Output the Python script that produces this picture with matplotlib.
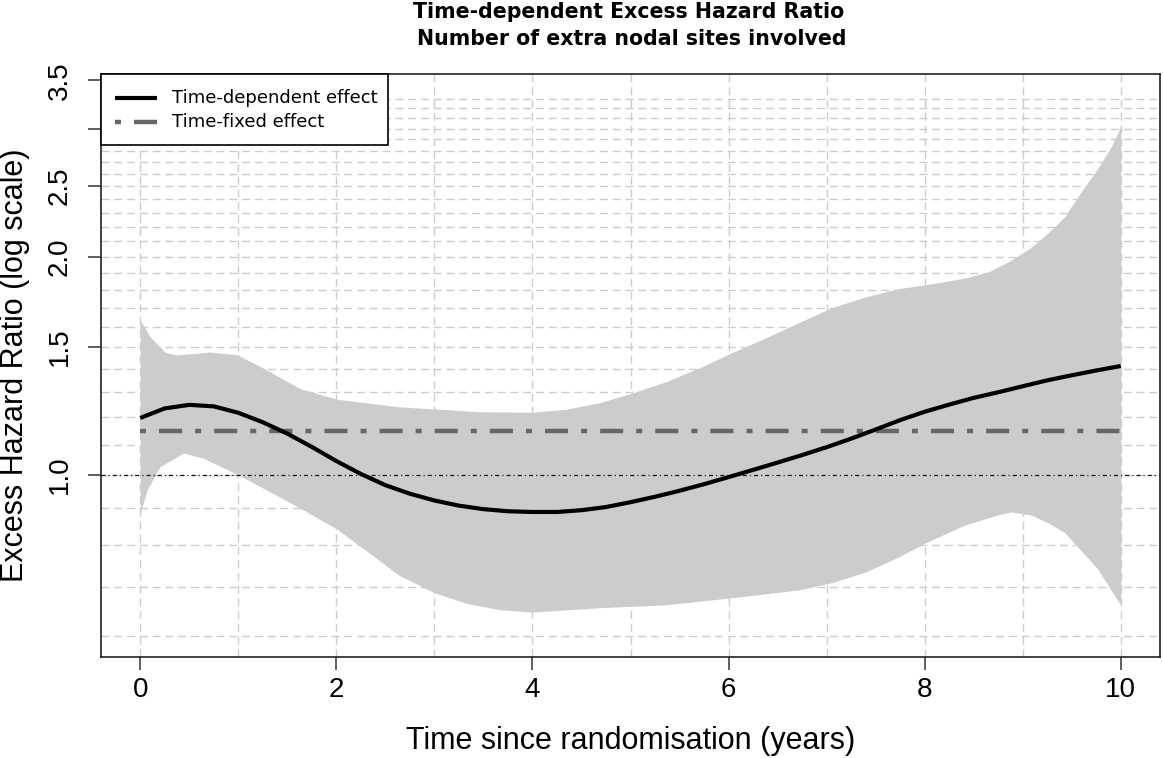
import matplotlib
matplotlib.use("Agg")
import matplotlib.pyplot as plt
import numpy as np
from matplotlib.lines import Line2D
from matplotlib.patches import Rectangle

plt.rcParams['font.family'] = ['Liberation Sans', 'DejaVu Sans']
plt.rcParams['lines.scale_dashes'] = False

# ---- Data ----
time_pts = [0.0, 0.25, 0.5, 0.75, 1.0, 1.25, 1.5, 1.75, 2.0, 2.25, 2.5, 2.75, 3.0,
            3.25, 3.5, 3.75, 4.0, 4.25, 4.5, 4.75, 5.0, 5.25, 5.5, 5.75, 6.0, 6.25,
            6.5, 6.75, 7.0, 7.25, 7.5, 7.75, 8.0, 8.25, 8.5, 8.75, 9.0, 9.25, 9.5,
            9.75, 10.0]
ehr_td = [1.198, 1.235, 1.249, 1.243, 1.218, 1.182, 1.14, 1.093, 1.045, 1.003, 0.968,
          0.942, 0.922, 0.907, 0.897, 0.891, 0.889, 0.889, 0.894, 0.903, 0.917, 0.933,
          0.951, 0.971, 0.993, 1.016, 1.04, 1.065, 1.092, 1.122, 1.155, 1.19, 1.222,
          1.25, 1.277, 1.30, 1.325, 1.35, 1.372, 1.393, 1.413]
upper_t = [0.0, 0.1, 0.25, 0.36, 0.5, 0.71, 0.99, 1.27, 1.63, 2.0, 2.64, 3.0, 3.46,
           4.0, 4.35, 4.68, 5.02, 5.36, 5.7, 6.03, 6.38, 6.71, 7.05, 7.4, 7.73, 8.07,
           8.41, 8.65, 8.85, 9.08, 9.26, 9.43, 9.59, 9.77, 9.9, 10.0]
upper_ci = [1.636, 1.55, 1.477, 1.464, 1.468, 1.477, 1.464, 1.40, 1.315, 1.272, 1.241,
            1.233, 1.222, 1.22, 1.232, 1.257, 1.297, 1.344, 1.404, 1.473, 1.545, 1.62,
            1.70, 1.76, 1.806, 1.834, 1.868, 1.905, 1.966, 2.055, 2.157, 2.27, 2.45,
            2.65, 2.83, 3.02]
lower_t = [0.0, 0.07, 0.2, 0.44, 0.64, 1.0, 1.29, 1.63, 2.0, 2.3, 2.64, 3.0, 3.33,
           3.66, 4.0, 4.68, 5.36, 6.03, 6.71, 7.05, 7.4, 7.73, 8.0, 8.41, 8.75, 8.88,
           9.08, 9.26, 9.43, 9.59, 9.77, 9.9, 10.0]
lower_ci = [0.886, 0.953, 1.026, 1.072, 1.055, 1.0, 0.953, 0.90, 0.843, 0.787, 0.727,
            0.688, 0.665, 0.652, 0.647, 0.656, 0.662, 0.677, 0.694, 0.71, 0.735, 0.77,
            0.805, 0.853, 0.881, 0.889, 0.881, 0.859, 0.832, 0.788, 0.740, 0.694,
            0.662]
ehr_fixed = 1.15

xticks = [0, 2, 4, 6, 8, 10]
yticks = [1.0, 1.5, 2.0, 2.5, 3.0, 3.5]
ytick_labels = ['1.0', '1.5', '2.0', '2.5', '', '3.5']
vgrid = list(range(0, 11))
hgrid = [round(0.6 + 0.1 * i, 1) for i in range(28)]
legend_labels = ['Time-dependent effect', 'Time-fixed effect']

W, H = 1163, 758
fig = plt.figure(figsize=(W / 100, H / 100), dpi=100)
ax = fig.add_axes([101 / W, 1 - 657 / H, (1160 - 101) / W, (657 - 74) / H])
ax.set_yscale('log')
ax.set_xlim(-0.4, 10.4)
ax.set_ylim(0.561, 3.57)

grid_kw = dict(color='#cdcdcd', lw=1.0, dashes=(5.8, 3.4), zorder=1)
for v in vgrid:
    ax.axvline(v, **grid_kw)
for h in hgrid:
    ax.axhline(h, **grid_kw)

# CI band (upper and lower bounds on a common time grid, in log space)
tt = np.union1d(upper_t, lower_t)
up = np.exp(np.interp(tt, upper_t, np.log(upper_ci)))
lo = np.exp(np.interp(tt, lower_t, np.log(lower_ci)))
ax.fill_between(tt, lo, up, color='#cccccc', lw=0, zorder=2)

ax.axhline(1.0, color='#111111', lw=0.9, dashes=(2.9, 2.2, 0.8, 2.2), zorder=3)
ax.plot(time_pts, ehr_td, color='black', lw=3.0, zorder=5, solid_capstyle='butt',
        solid_joinstyle='round')
ax.plot([0, 10], [ehr_fixed, ehr_fixed], color='#666666', lw=3.2,
        dashes=(4.3, 9.4, 16.6, 9.4), zorder=4, dash_capstyle='butt')

ax.set_xticks(xticks)
ax.set_xticklabels([str(x) for x in xticks])
ax.set_yticks(yticks)
ax.set_yticklabels(ytick_labels, rotation=90, va='center')
ax.yaxis.set_minor_locator(matplotlib.ticker.NullLocator())
ax.tick_params(axis='both', direction='out', length=9.5, width=1.1, labelsize=20,
               color='#333333')
ax.tick_params(axis='x', pad=5)
ax.tick_params(axis='y', pad=11)
for s in ax.spines.values():
    s.set_linewidth(1.2)
    s.set_color('#222222')

ax.set_xlabel('Time since randomisation (years)', fontsize=22)
ax.xaxis.set_label_coords(0.5, (657 - 741) / 583, transform=ax.transAxes)
ax.set_ylabel('Excess Hazard Ratio (log scale)', fontsize=22)
ax.yaxis.set_label_coords((15 - 101) / 1059, 0.5, transform=ax.transAxes)
ax.xaxis.label.set_va('center')
ax.yaxis.label.set_va('center')

title_kw = dict(ha='center', va='baseline', fontsize=14.8, fontweight='bold',
                family=['DejaVu Sans'])
fig.text(629 / W, 1 - 18 / H, 'Time-dependent Excess Hazard Ratio', **title_kw)
fig.text(632 / W, 1 - 45 / H, 'Number of extra nodal sites involved', **title_kw)


# ---- Legend box (drawn in figure pixel space, like R's legend()) ----
def fx(px):
    return px / W


def fy(py):
    return 1 - py / H


fig.add_artist(Rectangle((fx(101), fy(145)), fx(388) - fx(101), fy(74) - fy(145),
                         transform=fig.transFigure, facecolor='white',
                         edgecolor='black', lw=1.2, zorder=20))
leg_styles = [dict(color='black', lw=3.0, solid_capstyle='butt'),
              dict(color='#666666', lw=3.2, dashes=(4.3, 9.4, 16.6, 9.4),
                   dash_capstyle='butt')]
for i, (lab, st) in enumerate(zip(legend_labels, leg_styles)):
    yrow = 98 + 24 * i
    fig.add_artist(Line2D([fx(115), fx(157)], [fy(yrow), fy(yrow)],
                          transform=fig.transFigure, zorder=21, **st))
    fig.text(fx(172), fy(yrow), lab, ha='left', va='center', fontsize=13.0,
             family=['DejaVu Sans'], zorder=22)

fig.savefig('out.png', dpi=100)
